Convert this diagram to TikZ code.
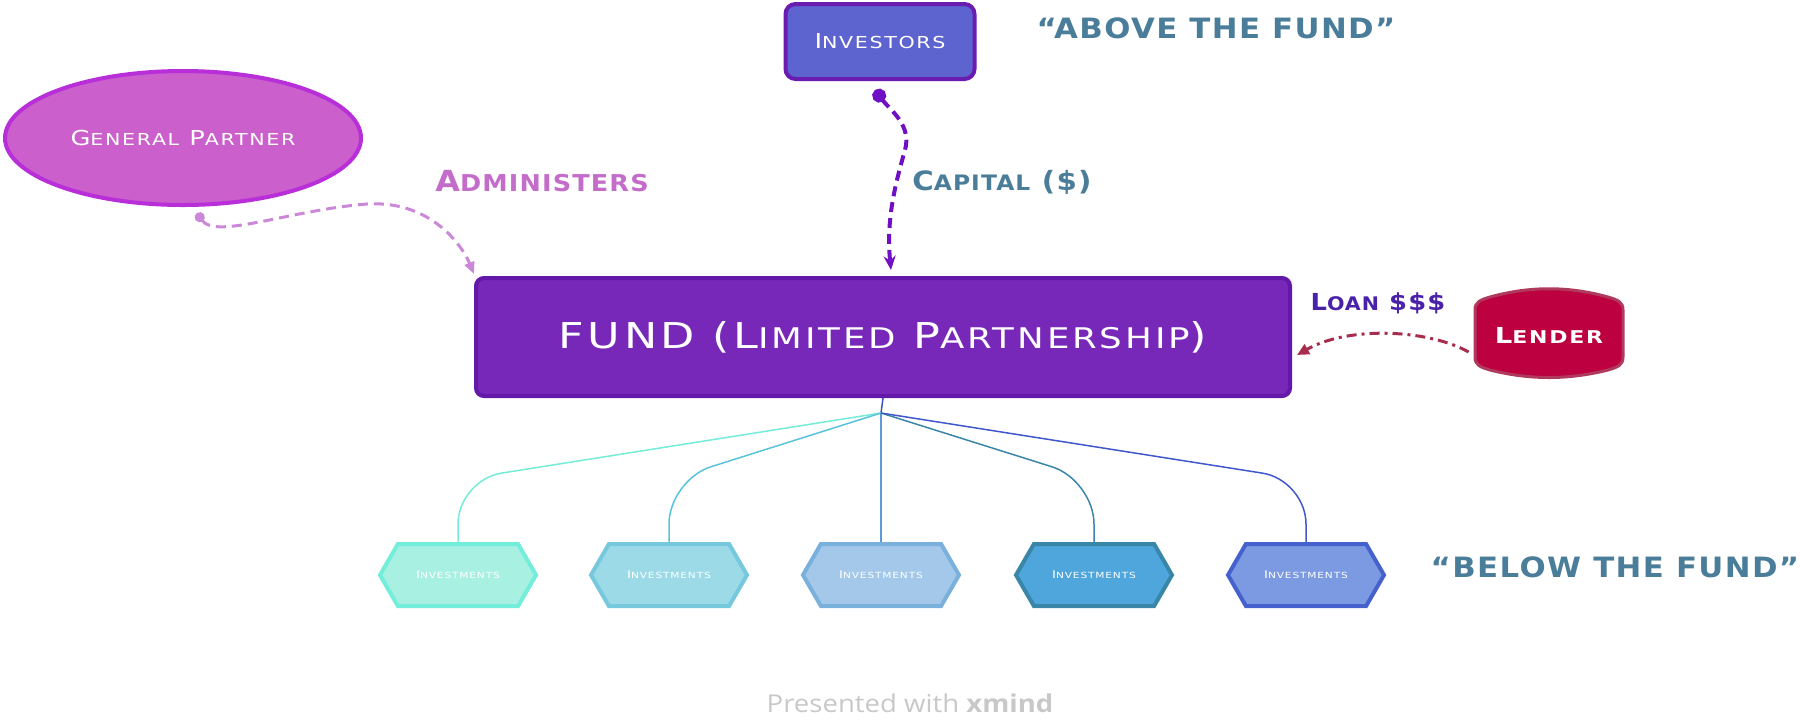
\documentclass[tikz,border=0pt]{standalone}
\usepackage{fontspec}
\setmainfont{DejaVu Sans}
\newfontfamily\capsfont[FakeStretch=1.25, LetterSpace=10]{DejaVu Sans}
\newfontfamily\labfont[FakeStretch=1.1, LetterSpace=5]{DejaVu Sans}
\newfontfamily\xmfont[FakeStretch=1.12]{Open Sans}
\usetikzlibrary{shapes.geometric,shapes.symbols,arrows.meta}

\definecolor{invfill}{HTML}{5E64CF}
\definecolor{invdraw}{HTML}{6A1BB0}
\definecolor{gpfill}{HTML}{CB5FCB}
\definecolor{gpdraw}{HTML}{B82ED8}
\definecolor{fundfill}{HTML}{7828B8}
\definecolor{funddraw}{HTML}{6418A8}
\definecolor{lendfill}{HTML}{BC0040}
\definecolor{lenddraw}{HTML}{B03A5E}
\definecolor{tealtext}{HTML}{4A7D99}
\definecolor{admtext}{HTML}{C46CCA}
\definecolor{admline}{HTML}{CC88D8}
\definecolor{capline}{HTML}{7010C4}
\definecolor{loantext}{HTML}{4A22AA}
\definecolor{loanline}{HTML}{A82C4C}
\definecolor{stemline}{HTML}{3555C0}
\definecolor{hfa}{HTML}{A8F0E2}\definecolor{hda}{HTML}{72EEDB}\definecolor{hla}{HTML}{74ECD8}
\definecolor{hfb}{HTML}{9CDAE8}\definecolor{hdb}{HTML}{76C8DC}\definecolor{hlb}{HTML}{58C4DC}
\definecolor{hfc}{HTML}{A3C8EA}\definecolor{hdc}{HTML}{7AB0DC}\definecolor{hlc}{HTML}{5B9CD6}
\definecolor{hfd}{HTML}{4EA6DC}\definecolor{hdd}{HTML}{3A86A8}\definecolor{hld}{HTML}{3A86A8}
\definecolor{hfe}{HTML}{7B9AE2}\definecolor{hde}{HTML}{4562CC}\definecolor{hle}{HTML}{4058CC}
\definecolor{xmgray}{HTML}{C8C8C8}

\newcommand{\lsc}[1]{\scalebox{0.8}{#1}}
\newcommand{\fsize}[1]{\fontsize{#1}{#1}\selectfont}

\tikzset{
  topicbox/.style={rectangle, rounded corners=5pt, inner sep=0pt, line width=2pt, text=white},
  invest/.style={signal, signal to=east and west, signal pointer angle=120,
    minimum width=78pt, minimum height=31pt, inner sep=0pt, line width=2pt,
    text=white, font=\capsfont\fsize{5.3}},
  label/.style={inner sep=0pt, font=\labfont\bfseries\fsize{13}},
  branch/.style={line width=0.75pt, rounded corners=22pt},
}

\begin{document}
\begin{tikzpicture}[x=0.5pt,y=-0.5pt]
  \useasboundingbox (0,0) rectangle (1800,720);

  % main topic and the parties round it
  \node[topicbox, fill=fundfill, draw=funddraw, rounded corners=4pt,
        minimum width=407pt, minimum height=59pt, font=\capsfont\fsize{17.8}] (fund) at (883,337)
        {FUND (L\lsc{IMITED} P\lsc{ARTNERSHIP})};
  \node[topicbox, fill=invfill, draw=invdraw, minimum width=94.5pt, minimum height=37.5pt,
        font=\capsfont\fsize{10.3}] (investors) at (880,41.5) {I\lsc{NVESTORS}};
  \node[ellipse, fill=gpfill, draw=gpdraw, line width=2pt, inner sep=0pt,
        minimum width=178pt, minimum height=67pt, text=white, font=\capsfont\fsize{10.3}] (gp) at (183,138)
        {G\lsc{ENERAL} P\lsc{ARTNER}};

  % lender
  \fill[lendfill, draw=lenddraw, line width=1.5pt]
    (1475,310) .. controls (1475,302) and (1480,300) .. (1490,297)
    .. controls (1530,286) and (1568,286) .. (1608,297)
    .. controls (1618,300) and (1623,302) .. (1623,310) -- (1623,357)
    .. controls (1623,365) and (1618,367) .. (1608,370)
    .. controls (1568,380) and (1530,380) .. (1490,370)
    .. controls (1480,367) and (1475,365) .. (1475,357) -- cycle;
  \node[inner sep=0pt, minimum width=76pt, minimum height=43pt, text=white,
        font=\capsfont\bfseries\fsize{11}] (lender) at (1549,335) {L\lsc{ENDER}};

  % labels
  \node[label, text=tealtext, font=\labfont\bfseries\fsize{14}] (above) at (1216,28) {“ABOVE THE FUND”};
  \node[label, text=tealtext, font=\labfont\bfseries\fsize{14}] (below) at (1615,567) {“BELOW THE FUND”};
  \node[label, text=admtext, font=\labfont\bfseries\fsize{14.5}] (admin) at (542,181) {A\lsc{DMINISTERS}};
  \node[label, text=tealtext, font=\labfont\bfseries\fsize{13.3}] (capital) at (1002,182) {C\lsc{APITAL} (\$)};
  \node[label, text=loantext, font=\labfont\bfseries\fsize{11.7}] (loan) at (1378,303) {L\lsc{OAN} \$\$\$};

  % relationships
  \draw[admline, line width=1.5pt, dash pattern=on 5pt off 3pt,
        {Circle[length=5pt]}-{Triangle[length=6pt,width=5pt]}]
    ([xshift=7pt,yshift=-3pt]gp.south) .. controls (215,240) and (290,210) .. (367,204)
    .. controls (430,200) and (462,245) .. ([yshift=1pt]fund.north west);
  \draw[capline, line width=2pt, dash pattern=on 5pt off 3pt,
        {Circle[length=7pt]}-{Stealth[length=7pt,width=6pt]}]
    ([xshift=-2.5pt,yshift=-4.5pt]investors.south) .. controls (890,110) and (912,125) .. (905,150)
    .. controls (895,185) and (886,220) .. ([xshift=4pt,yshift=3pt]fund.north);
  \draw[loanline, line width=1.5pt, dash pattern=on 5pt off 2.5pt on 1.5pt off 2.5pt,
        -{Triangle[length=6pt,width=5.5pt]}]
    ([xshift=-2pt,yshift=-8.5pt]lender.west) .. controls (1430,330) and (1350,325)
    .. ([xshift=2.5pt,yshift=-9pt]fund.east);

  % investments below the fund
  \coordinate (jn) at (881,413);
  \coordinate (bend) at (0,480);
  \draw[stemline, line width=0.75pt] (fund.south) -- (jn);
  \foreach \i/\x/\fc/\dc/\lc in {1/458/hfa/hda/hla, 2/669/hfb/hdb/hlb, 3/881/hfc/hdc/hlc,
                                 4/1094/hfd/hdd/hld, 5/1306/hfe/hde/hle}{
    \node[invest, fill=\fc, draw=\dc] (inv\i) at (\x,575) {I\lsc{NVESTMENTS}};
    \draw[branch, \lc] (jn) -- (inv\i.north |- bend) -- (inv\i.north);
  }

  \node[inner sep=0pt, text=xmgray, font=\xmfont\fsize{12.3}] (xmind) at (910,703)
    {Presented with \textbf{xmind}};
\end{tikzpicture}
\end{document}
